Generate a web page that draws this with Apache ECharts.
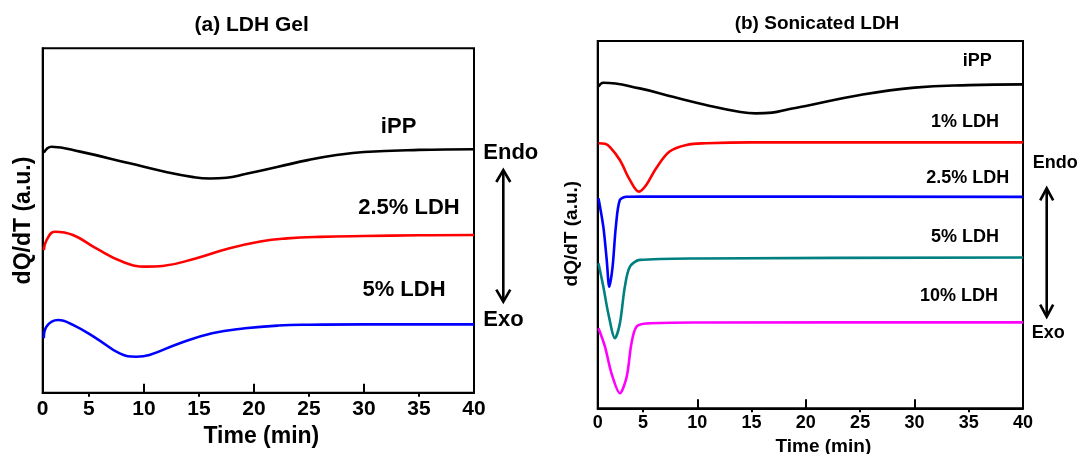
<!DOCTYPE html>
<html>
<head>
<meta charset="utf-8">
<script src="https://cdn.jsdelivr.net/npm/echarts@6/dist/echarts.min.js"></script>
<style>
html,body{margin:0;padding:0;background:#fff;}
#chart{width:1082px;height:454px;}
</style>
</head>
<body>
<div id="chart"></div>
<script>
// ---------- tick labels ----------
const timeTicks = [0, 5, 10, 15, 20, 25, 30, 35, 40];
const tickLabels = ['0', '5', '10', '15', '20', '25', '30', '35', '40'];
const majorTicks = [10, 20, 30];
const minorTicks = [5, 15, 25, 35];

// ---------- (a) LDH Gel : time (min) and dQ/dT (a.u.) ----------
const a_iPP_t = [0.9, 1.6, 4.2, 8.7, 12, 14.5, 16, 17.5, 19.2, 22.2, 25, 27.5, 30, 35, 40];
const a_iPP_v = [69.7, 71.4, 70.0, 66.6, 64.1, 62.6, 62.2, 62.4, 63.5, 65.6, 67.6, 69.0, 69.9, 70.5, 70.7];

const a_25_t = [0.9, 1.15, 1.9, 3.55, 5.67, 8.07, 10.2, 11.7, 14.7, 17.7, 20.7, 23, 26, 30, 35, 40];
const a_25_v = [41.4, 44.3, 46.75, 45.8, 41.9, 38.0, 36.6, 36.8, 39.0, 41.9, 44.0, 44.8, 45.25, 45.5, 45.7, 45.8];

const a_5_t = [0.9, 1.15, 2.2, 3.55, 5.67, 7.8, 9.3, 10.5, 13.2, 16.2, 19.2, 22.2, 25, 30, 40];
const a_5_v = [15.8, 19.2, 21.1, 19.7, 15.8, 11.4, 10.45, 10.95, 14.3, 17.25, 18.7, 19.5, 19.75, 19.85, 19.85];

// ---------- (b) Sonicated LDH ----------
const b_iPP_t = [0.9, 1.35, 4.7, 7.75, 10.8, 13.85, 15.4, 16.9, 18.4, 20, 25, 30, 35, 40];
const b_iPP_v = [87.6, 88.65, 87.1, 84.8, 82.6, 80.75, 80.3, 80.5, 81.4, 82.3, 85.3, 87.3, 88.0, 88.2];

const b_1_t = [0.9, 1.5, 1.96, 2.87, 3.79, 4.64, 5.3, 6.2, 7.45, 9, 10.8, 15, 40];
const b_1_v = [72.15, 72.0, 71.1, 67.6, 62.2, 59.0, 60.8, 65.3, 69.9, 71.7, 72.15, 72.4, 72.4];

const b_25_t = [0.9, 1.35, 1.66, 1.9, 2.2, 2.5, 2.87, 3.5, 5, 40];
const b_25_v = [57.2, 49.4, 40.4, 33.1, 38.5, 49.4, 56.7, 57.6, 57.65, 57.55];

const b_5_t = [0.9, 1.35, 1.8, 2.42, 2.87, 3.33, 3.79, 4.7, 10, 40];
const b_5_v = [39.5, 33.1, 25.9, 19.1, 23.1, 33.1, 38.5, 40.4, 40.8, 41.05];

const b_10_t = [0.9, 1.5, 2.1, 2.87, 3.5, 3.94, 4.4, 5.3, 10, 40];
const b_10_v = [21.8, 16.8, 9.5, 4.1, 8.6, 17.7, 22.2, 23.1, 23.35, 23.4];

// ---------- helpers ----------
const FONT = '"Liberation Sans", Arial, Helvetica, sans-serif';
const zip = (t, v) => t.map((x, i) => [x, v[i]]);

function labelFor(val) {
  let best = 0;
  for (let i = 0; i < timeTicks.length; i++) {
    if (Math.abs(timeTicks[i] - val) < Math.abs(timeTicks[best] - val)) best = i;
  }
  return tickLabels[best];
}

function mainX(gridIndex, xMin, labelSize, nameSize, nameGap, namePad) {
  return {
    type: 'value', gridIndex: gridIndex, min: xMin, max: 40,
    name: 'Time (min)', nameLocation: 'middle', nameGap: nameGap,
    nameTextStyle: { fontFamily: FONT, fontWeight: 'bold', fontSize: nameSize, color: '#000', padding: namePad },
    axisLine: { show: true, onZero: false, lineStyle: { color: '#000', width: 2 } },
    axisTick: { show: true, inside: true, length: 9, customValues: majorTicks, lineStyle: { color: '#000', width: 2 } },
    axisLabel: {
      show: true, margin: 6, fontFamily: FONT, fontWeight: 'bold', fontSize: labelSize, color: '#000',
      customValues: timeTicks.map(v => Math.max(v, xMin)),
      formatter: v => labelFor(v), showMinLabel: true, showMaxLabel: true
    },
    splitLine: { show: false }
  };
}
function minorX(gridIndex, xMin) {
  return {
    type: 'value', gridIndex: gridIndex, min: xMin, max: 40,
    axisLine: { show: false },
    axisTick: { show: true, inside: true, length: 4, customValues: minorTicks, lineStyle: { color: '#000', width: 2 } },
    axisLabel: { show: false }, splitLine: { show: false }
  };
}
function yAx(gridIndex, nameSize, nameGap, namePad) {
  return {
    type: 'value', gridIndex: gridIndex, min: 0, max: 100,
    name: 'dQ/dT (a.u.)', nameLocation: 'middle', nameGap: nameGap,
    nameTextStyle: { fontFamily: FONT, fontWeight: 'bold', fontSize: nameSize, color: '#000', padding: namePad },
    axisLine: { show: true, lineStyle: { color: '#000', width: 2 } },
    axisTick: { show: false }, axisLabel: { show: false }, splitLine: { show: false }
  };
}
function curve(xi, yi, data, color, smooth) {
  return {
    type: 'line', xAxisIndex: xi, yAxisIndex: yi, data: data,
    smooth: smooth, showSymbol: false, symbol: 'none',
    lineStyle: { color: color, width: 2.6 }, itemStyle: { color: color },
    silent: true, z: 3
  };
}
function txt(x, y, s, size, align) {
  return {
    type: 'text', x: x, y: y, z: 10,
    style: { text: s, fontFamily: FONT, fontWeight: 'bold', fontSize: size, fill: '#000',
      align: align || 'center', verticalAlign: 'middle' }
  };
}
function arrow(x, y1, y2, hw, hh) {
  const st = { stroke: '#000', lineWidth: 2.6, fill: null };
  return [
    { type: 'line', shape: { x1: x, y1: y1 + 1, x2: x, y2: y2 - 1 }, style: st, z: 10 },
    { type: 'polyline', shape: { points: [[x - hw, y1 + hh], [x, y1], [x + hw, y1 + hh]] }, style: st, z: 10 },
    { type: 'polyline', shape: { points: [[x - hw, y2 - hh], [x, y2], [x + hw, y2 - hh]] }, style: st, z: 10 }
  ];
}

const option = {
  animation: false,
  backgroundColor: '#fff',
  grid: [
    { left: 42.7, top: 48.3, width: 431.3, height: 344.4, show: true, borderColor: '#000', borderWidth: 2,
      backgroundColor: 'transparent', containLabel: false, outerBoundsMode: 'none' },
    { left: 597.7, top: 41, width: 425.3, height: 367.3, show: true, borderColor: '#000', borderWidth: 2,
      backgroundColor: 'transparent', containLabel: false, outerBoundsMode: 'none' }
  ],
  xAxis: [
    mainX(0, 0.8, 21, 23, 32, [0, 0, 0, 6]),
    minorX(0, 0.8),
    mainX(1, 0.83, 18, 19, 27, [0, 0, 0, 26]),
    minorX(1, 0.83)
  ],
  yAxis: [
    yAx(0, 23, 8, [0, 0, 0, 0]),
    yAx(1, 19, 16, [0, 18, 0, 0])
  ],
  series: [
    curve(0, 0, zip(a_iPP_t, a_iPP_v), '#000000', 0.45),
    curve(0, 0, zip(a_25_t, a_25_v), '#ff0000', 0.45),
    curve(0, 0, zip(a_5_t, a_5_v), '#0000ff', 0.45),
    curve(2, 1, zip(b_iPP_t, b_iPP_v), '#000000', 0.45),
    curve(2, 1, zip(b_1_t, b_1_v), '#ff0000', 0.35),
    curve(2, 1, zip(b_25_t, b_25_v), '#0000ff', 0.3),
    curve(2, 1, zip(b_5_t, b_5_v), '#008080', 0.3),
    curve(2, 1, zip(b_10_t, b_10_v), '#ff00ff', 0.3)
  ],
  graphic: [
    txt(251.7, 25, '(a) LDH Gel', 21),
    txt(817, 24, '(b) Sonicated LDH', 19),
    txt(398.6, 126.7, 'iPP', 22),
    txt(409, 208.3, '2.5% LDH', 22),
    txt(404, 290, '5% LDH', 22),
    txt(483.3, 153.3, 'Endo', 22, 'left'),
    txt(483.3, 320, 'Exo', 22, 'left'),
    txt(977.3, 61, 'iPP', 18),
    txt(965, 121.7, '1% LDH', 18),
    txt(967.7, 178.3, '2.5% LDH', 18),
    txt(965, 237.3, '5% LDH', 18),
    txt(959, 296, '10% LDH', 18),
    txt(1032.7, 162.7, 'Endo', 18, 'left'),
    txt(1031.7, 333.3, 'Exo', 18, 'left')
  ].concat(arrow(503.3, 170, 301.7, 7, 12)).concat(arrow(1046.7, 188.3, 316.7, 6.5, 12))
};

const chart = echarts.init(document.getElementById('chart'), null, { renderer: 'canvas' });
chart.setOption(option);
</script>
</body>
</html>
